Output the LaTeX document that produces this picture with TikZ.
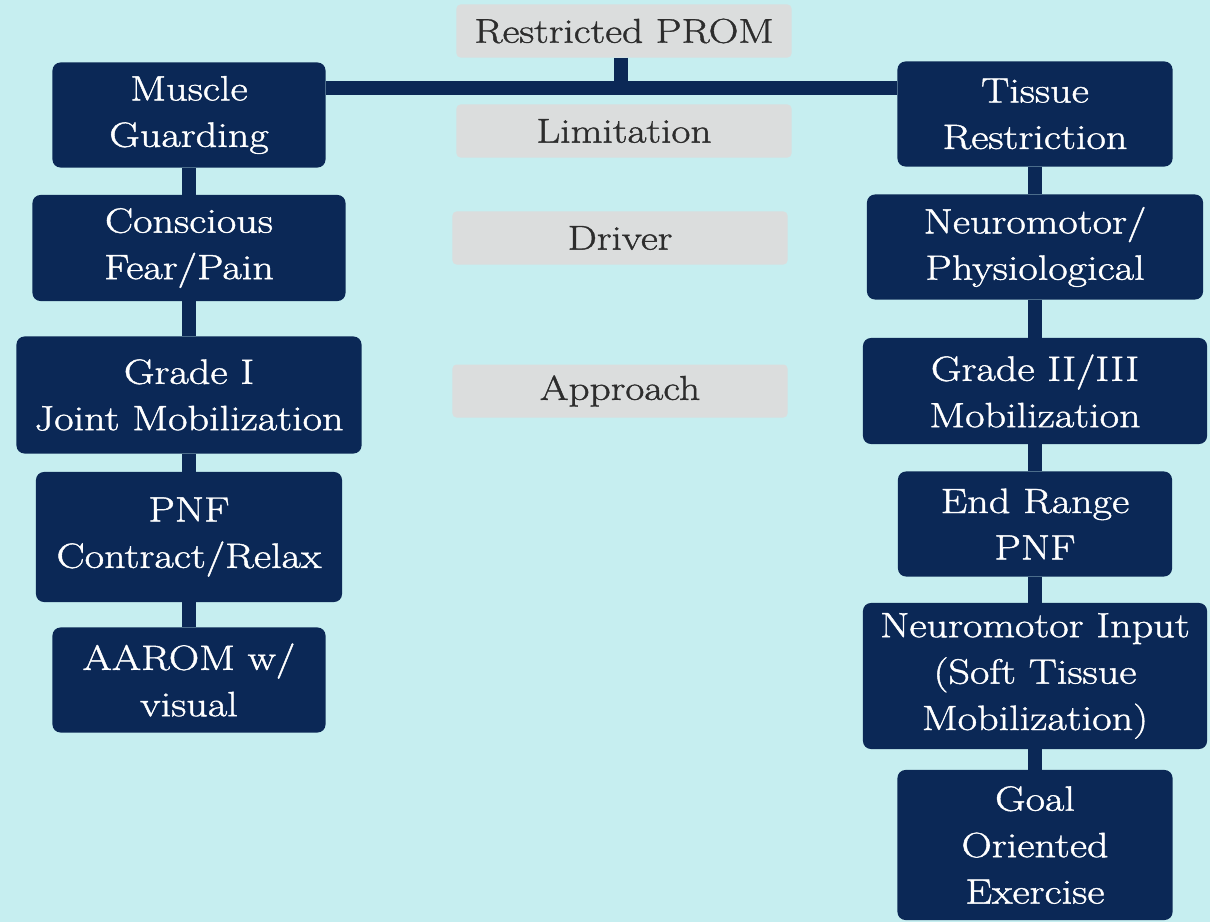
\documentclass[tikz,border=0pt]{standalone}
\usepackage{fontspec}
\setmainfont{Latin Modern Roman}[FakeStretch=1.2, FakeBold=1.2]
\usetikzlibrary{positioning}

\definecolor{bgcyan}{RGB}{198,238,240}
\definecolor{navy}{RGB}{11,40,86}
\definecolor{greyfill}{RGB}{219,221,221}
\definecolor{greytext}{RGB}{45,45,45}

\tikzset{
  darkbox/.style={fill=navy, text=white, rounded corners=0.2cm, align=center,
    inner sep=0pt, font=\fontsize{25}{33}\selectfont},
  greybox/.style={fill=greyfill, text=greytext, rounded corners=0.1cm, align=center,
    inner sep=0pt, minimum width=8.375cm, minimum height=1.325cm,
    font=\fontsize{24.5}{33}\selectfont},
  boxsize/.style 2 args={minimum width=#1, minimum height=#2},
  link/.style={draw=navy, line width=10pt}
}

\begin{document}
\begin{tikzpicture}[x=0.025cm, y=-0.025cm]

  \fill[bgcyan] (0,0) rectangle (1210,922);
  \useasboundingbox (0,0) rectangle (1210,922);

  % middle labels
  \node[greybox] (prom) at (624,31) {Restricted PROM};
  \node[greybox] (limit) at (624,131) {Limitation};
  \node[greybox] (driver) at (620,238) {Driver};
  \node[greybox] (approach) at (620,391) {Approach};

  % left column
  \node[darkbox, boxsize={6.825cm}{2.625cm}] (muscle) at (189,115) {Muscle\\Guarding};
  \node[darkbox, boxsize={7.825cm}{2.65cm}] (conscious) at (189,248) {Conscious\\Fear/Pain};
  \node[darkbox, boxsize={8.625cm}{2.925cm}] (gradeone) at (189,395) {Grade I\\Joint Mobilization};
  \node[darkbox, boxsize={7.65cm}{3.25cm}] (pnf) at (189,537) {PNF\\Contract/Relax};
  \node[darkbox, boxsize={6.825cm}{2.625cm}] (aarom) at (189,680) {AAROM w/\\visual};

  % right column
  \node[darkbox, boxsize={6.875cm}{2.625cm}] (tissue) at (1035,114) {Tissue\\Restriction};
  \node[darkbox, boxsize={8.4cm}{2.625cm}] (neuro) at (1035,247) {Neuromotor/\\Physiological};
  \node[darkbox, boxsize={8.6cm}{2.65cm}] (gradetwo) at (1035,391) {Grade II/III\\Mobilization};
  \node[darkbox, boxsize={6.85cm}{2.625cm}] (endrange) at (1035,524) {End Range\\PNF};
  \node[darkbox, boxsize={8.6cm}{3.65cm}] (input) at (1035,676) {Neuromotor Input\\(Soft Tissue\\Mobilization)};
  \node[darkbox, boxsize={6.875cm}{3.75cm}] (goal) at (1035,845) {Goal\\Oriented\\Exercise};

  % connectors
  \coordinate (bar) at (621,88);
  \draw[link] (prom.south -| bar) -- (bar);
  \draw[link] (muscle.east |- bar) -- (tissue.west |- bar);

  \draw[link] (muscle) -- (conscious);
  \draw[link] (conscious) -- (gradeone);
  \draw[link] (gradeone) -- (pnf);
  \draw[link] (pnf) -- (aarom);

  \draw[link] (tissue) -- (neuro);
  \draw[link] (neuro) -- (gradetwo);
  \draw[link] (gradetwo) -- (endrange);
  \draw[link] (endrange) -- (input);
  \draw[link] (input) -- (goal);

\end{tikzpicture}
\end{document}
